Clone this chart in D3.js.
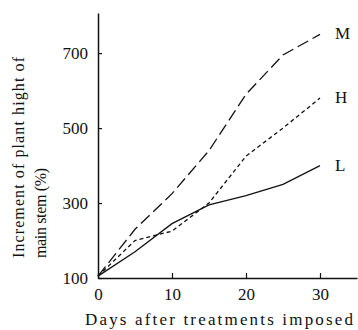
<!DOCTYPE html>
<html>
<head>
<meta charset="utf-8">
<script src="https://cdn.jsdelivr.net/npm/d3@7"></script>
<style>
body { margin: 0; background: #fff; }
text { font-family: "Liberation Serif", "DejaVu Serif", serif; fill: #111; }
</style>
</head>
<body>
<script>
var svgWidth = 358;
var svgHeight = 330;

// data
var days = [0, 5, 10, 15, 20, 25, 30];
var seriesM = [105, 230, 325, 440, 590, 695, 750];
var seriesH = [105, 200, 225, 300, 425, 500, 580];
var seriesL = [105, 170, 245, 295, 320, 350, 400];
var seriesNames = ["M", "H", "L"];
var xTicks = [0, 10, 20, 30];
var yTicks = [100, 300, 500, 700];

var svg = d3.select("body").append("svg").attr("width", svgWidth).attr("height", svgHeight);

var x = d3.scaleLinear().domain([0, 35]).range([98, 357]);
var y = d3.scaleLinear().domain([100, 807]).range([278, 13]);

// axes
var xAxis = d3.axisBottom(x).tickValues(xTicks).tickSizeInner(-5).tickSizeOuter(0).tickPadding(10);
var yAxis = d3.axisLeft(y).tickValues(yTicks).tickSizeInner(-4).tickSizeOuter(0).tickPadding(10);

var gx = svg.append("g").attr("transform", "translate(0," + y(100) + ")").call(xAxis);
var gy = svg.append("g").attr("transform", "translate(" + x(0) + ",0)").call(yAxis);

[gx, gy].forEach(function(g) {
    g.select(".domain").attr("stroke", "#111").attr("stroke-width", 1.5);
    g.selectAll(".tick line").attr("stroke", "#111").attr("stroke-width", 1.2);
    g.selectAll(".tick text").style("font-size", "17px").attr("fill", "#111");
});

// lines
var line = d3.line()
    .x(function(d, i) { return x(days[i]); })
    .y(function(d) { return y(d); });

var series = [seriesM, seriesH, seriesL];
var dashes = ["12,5", "4,3", null];

series.forEach(function(s, i) {
    svg.append("path")
        .datum(s)
        .attr("d", line)
        .attr("fill", "none")
        .attr("stroke", "#111")
        .attr("stroke-width", 1.3)
        .attr("stroke-dasharray", dashes[i]);

    svg.append("text")
        .attr("x", x(30) + 15)
        .attr("y", y(s[s.length - 1]) + 5)
        .style("font-size", "17px")
        .text(seriesNames[i]);
});

// axis titles
svg.append("text")
    .attr("x", 85)
    .attr("y", 325)
    .attr("textLength", 268)
    .attr("lengthAdjust", "spacing")
    .style("font-size", "17px")
    .text("Days after treatments imposed");

svg.append("text")
    .attr("transform", "translate(24,258) rotate(-90)")
    .attr("textLength", 201)
    .attr("lengthAdjust", "spacing")
    .style("font-size", "16px")
    .text("Increment of plant hight of");

svg.append("text")
    .attr("transform", "translate(46,258) rotate(-90)")
    .attr("textLength", 90)
    .attr("lengthAdjust", "spacing")
    .style("font-size", "16px")
    .text("main stem (%)");
</script>
</body>
</html>
